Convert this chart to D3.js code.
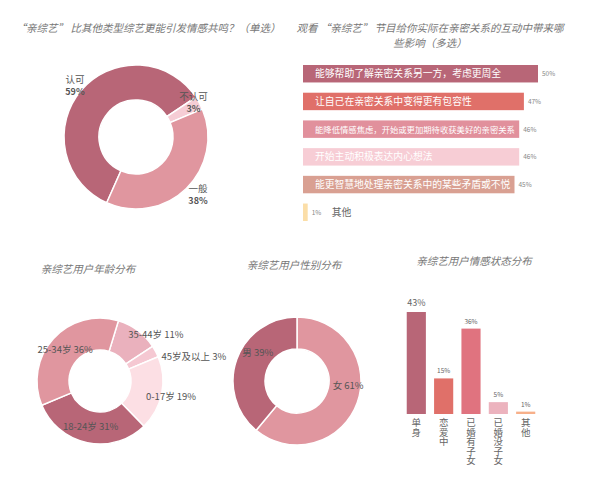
<!DOCTYPE html>
<html>
<head>
<meta charset="utf-8">
<script src="https://cdn.jsdelivr.net/npm/d3@7"></script>
<style>
  body { margin: 0; background: #fff; }
  svg { font-family: "Noto Sans CJK SC", "Noto Sans", sans-serif; }
  .title { font-style: italic; fill: #777; font-size: 10.5px; }
</style>
</head>
<body>
<svg id="chart" width="600" height="496"></svg>
<script>
// chart 1: 情感共鸣 (单选)
const resonanceCats = ['认可', '不认可', '一般']
const resonanceVals = [59, 3, 38]
const resonanceColors = ['#b86677', '#f6cdd5', '#e0969f']

// chart 2: 互动影响 (多选)
const impactCats = [
  '能够帮助了解亲密关系另一方，考虑更周全',
  '让自己在亲密关系中变得更有包容性',
  '能降低情感焦虑，开始或更加期待收获美好的亲密关系',
  '开始主动积极表达内心想法',
  '能更智慧地处理亲密关系中的某些矛盾或不悦',
  '其他',
]
const impactVals = [50, 47, 46, 46, 45, 1]
const impactColors = ['#b86677', '#e07069', '#e1909c', '#f7cdd5', '#d9a092', '#fbdea8']

// chart 3: 年龄分布
const ageCats = ['35-44岁', '45岁及以上', '0-17岁', '18-24岁', '25-34岁']
const ageVals = [11, 3, 19, 31, 36]
const ageColors = ['#eab1bd', '#f5c8d2', '#fcdfe4', '#b86677', '#e0969f']

// chart 4: 性别分布
const genderCats = ['女', '男']
const genderVals = [61, 39]
const genderColors = ['#e0969f', '#b86677']

// chart 5: 情感状态分布
const statusCats = ['单身', '恋爱中', '已婚有子女', '已婚没子女', '其他']
const statusVals = [43, 15, 36, 5, 1]
const statusColors = ['#b86677', '#e07069', '#e0737f', '#ecb3be', '#f7b08a']

const svg = d3.select('#chart')
const deg = Math.PI / 180

const donut = (cx, cy, r0, r1, start, cats, vals, colors) => {
  const g = svg.append('g').attr('transform', `translate(${cx},${cy})`)
  const pie = d3.pie().sort(null).startAngle(start).endAngle(start + 2 * Math.PI)
  const arc = d3.arc().innerRadius(r0).outerRadius(r1)
  const arcs = pie(vals).map((d, i) => ({ ...d, cat: cats[i], color: colors[i] }))
  g.selectAll('path')
    .data(arcs)
    .join('path')
    .attr('d', arc)
    .attr('fill', (d) => d.color)
    .attr('stroke', '#fff')
    .attr('stroke-width', 1.5)
  return { g, arc, arcs }
}

// ---- chart 1
svg.append('text').attr('class', 'title').attr('x', 148).attr('y', 32)
  .attr('text-anchor', 'middle').text('“亲综艺” 比其他类型综艺更能引发情感共鸣？（单选）')

{
  const { g, arcs } = donut(136, 137, 37, 72, 204 * deg, resonanceCats, resonanceVals, resonanceColors)
  const outer = d3.arc().innerRadius(80).outerRadius(80)
  // small nudges so the labels sit like the original
  const nudge = { '认可': [0, 0], '不认可': [-13, 3], '一般': [6, 0] }
  const lab = g.selectAll('g.lab')
    .data(arcs)
    .join('g')
    .attr('transform', (d) => {
      const [x, y] = outer.centroid(d)
      const [nx, ny] = nudge[d.cat]
      return `translate(${x + nx},${y + ny})`
    })
  lab.append('text')
    .attr('text-anchor', 'middle')
    .attr('y', -2)
    .attr('font-size', 9.5).attr('fill', '#555')
    .text((d) => d.cat)
  lab.append('text')
    .attr('text-anchor', 'middle')
    .attr('y', 10)
    .attr('font-size', 9).attr('font-weight', 'bold').attr('fill', '#555')
    .text((d) => d.value + '%')
}

// ---- chart 2
svg.append('text').attr('class', 'title').attr('text-anchor', 'middle')
  .selectAll('tspan')
  .data(['观看 “亲综艺” 节目给你实际在亲密关系的互动中带来哪', '些影响（多选）'])
  .join('tspan')
  .attr('x', 430)
  .attr('y', (d, i) => 32 + i * 15)
  .text((d) => d)

{
  const x = d3.scaleLinear().domain([0, 50]).range([303, 538])
  const y = d3.scaleBand().domain(impactCats).range([65, 221]).paddingInner(0.37).paddingOuter(0)
  const g = svg.append('g')
  impactCats.forEach((c, i) => {
    const v = impactVals[i]
    const w = x(v) - x(0)
    g.append('rect')
      .attr('x', x(0)).attr('y', y(c))
      .attr('width', w).attr('height', y.bandwidth())
      .attr('fill', impactColors[i])
    g.append('text')
      .attr('x', x(v) + 4).attr('y', y(c) + y.bandwidth() / 2 + 2.5)
      .attr('font-size', 6.5).attr('fill', '#888')
      .text(v + '%')
    const inside = w > 60
    const t = g.append('text')
      .attr('x', inside ? x(0) + 12 : x(v) + 24)
      .attr('y', y(c) + y.bandwidth() / 2 + 3.5)
      .attr('font-size', 9.8)
      .attr('fill', inside ? '#fff' : '#666')
      .text(c)
    // shrink a label that would run past the end of its bar
    const len = t.node().getComputedTextLength()
    if (inside && len > w - 16) {
      t.attr('font-size', 9.8 * (w - 16) / len)
    }
  })
}

// ---- chart 3
svg.append('text').attr('class', 'title').attr('x', 88).attr('y', 273)
  .attr('text-anchor', 'middle').text('亲综艺用户年龄分布')

{
  const { g, arc, arcs } = donut(100, 381, 31, 63, 17 * deg, ageCats, ageVals, ageColors)
  g.selectAll('text')
    .data(arcs)
    .join('text')
    .attr('transform', (d) => {
      let [x, y] = arc.centroid(d)
      if (d.value < 5) { x += 20; y -= 2 }
      else if (d.value < 15) { y -= 9 }
      else if (d.value < 25) { y += 6 }
      return `translate(${x},${y})`
    })
    .attr('dy', '0.35em')
    .attr('text-anchor', (d) => ((d.startAngle + d.endAngle) / 2 % (2 * Math.PI) < 150 * deg ? 'start' : 'middle'))
    .attr('font-size', 9.5).attr('fill', '#555')
    .text((d) => `${d.cat} ${d.value}%`)
}

// ---- chart 4
svg.append('text').attr('class', 'title').attr('x', 294).attr('y', 269)
  .attr('text-anchor', 'middle').text('亲综艺用户性别分布')

{
  const { g, arc, arcs } = donut(297, 381, 32, 64, 0, genderCats, genderVals, genderColors)
  g.selectAll('text')
    .data(arcs)
    .join('text')
    .attr('transform', (d) => {
      const [x, y] = arc.centroid(d)
      return `translate(${x + 6},${y - 12})`
    })
    .attr('dy', '0.35em')
    .attr('text-anchor', 'middle')
    .attr('font-size', 9.5).attr('fill', '#555')
    .text((d) => `${d.cat} ${d.value}%`)
}

// ---- chart 5
svg.append('text').attr('class', 'title').attr('x', 474).attr('y', 265)
  .attr('text-anchor', 'middle').text('亲综艺用户情感状态分布')

{
  const x = d3.scaleBand().domain(statusCats).range([404, 538]).paddingInner(0.3).paddingOuter(0.1)
  const y = d3.scaleLinear().domain([0, 43]).range([414, 312])
  const g = svg.append('g')
  g.selectAll('rect')
    .data(statusCats)
    .join('rect')
    .attr('x', (d) => x(d))
    .attr('y', (d, i) => y(statusVals[i]))
    .attr('width', x.bandwidth())
    .attr('height', (d, i) => y(0) - y(statusVals[i]))
    .attr('fill', (d, i) => statusColors[i])
  g.selectAll('text.val')
    .data(statusCats)
    .join('text')
    .attr('class', 'val')
    .attr('x', (d) => x(d) + x.bandwidth() / 2)
    .attr('y', (d, i) => y(statusVals[i]) - (i === 0 ? 6 : 5))
    .attr('text-anchor', 'middle')
    .attr('font-size', (d, i) => (i === 0 ? 9 : 6.5))
    .attr('fill', '#666')
    .text((d, i) => statusVals[i] + '%')
  // vertical category labels
  g.selectAll('text.cat')
    .data(statusCats)
    .join('text')
    .attr('class', 'cat')
    .attr('x', (d) => x(d) + x.bandwidth() / 2)
    .attr('y', y(0) + 4)
    .style('writing-mode', 'vertical-rl')
    .attr('font-size', 9.5).attr('fill', '#666')
    .text((d) => d)
}
</script>
</body>
</html>
